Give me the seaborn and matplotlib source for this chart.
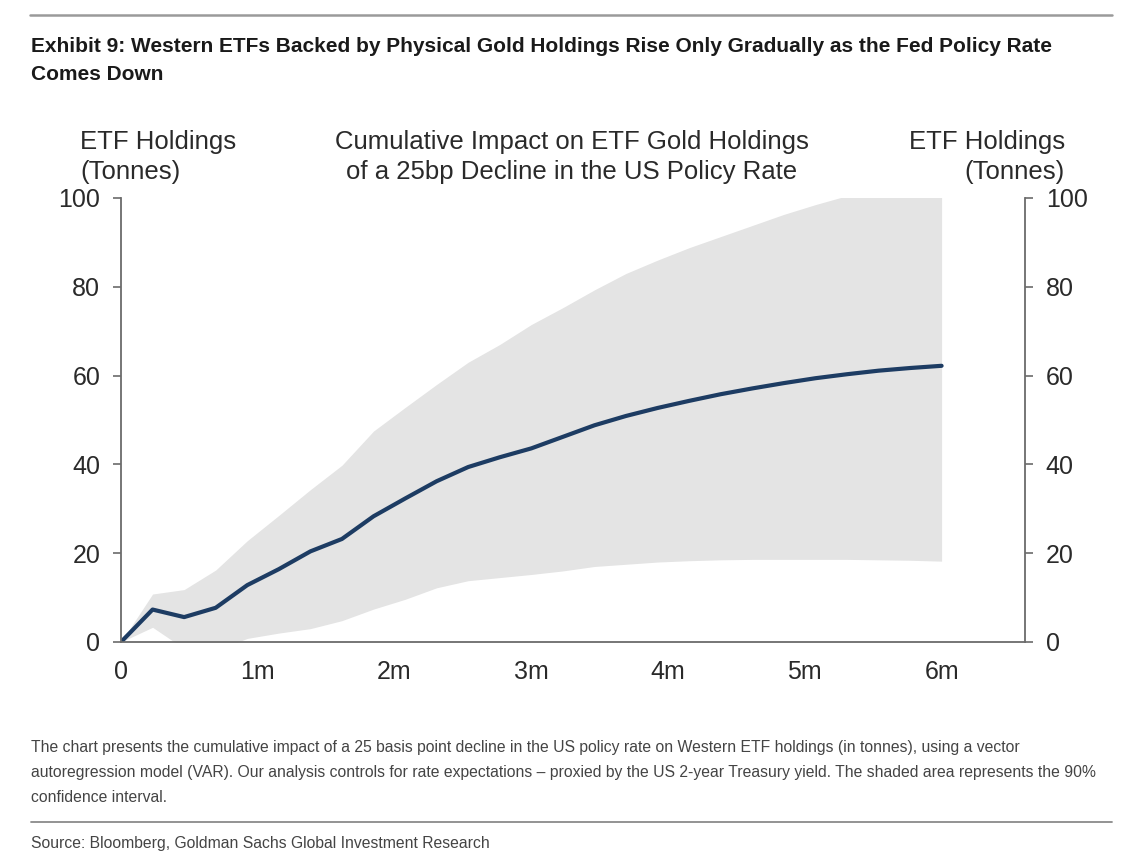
import numpy as np
import pandas as pd
import seaborn as sns
import matplotlib.pyplot as plt
from matplotlib.lines import Line2D

# horizon in weeks after the rate cut, 0 .. 26 (= 6 months)
weeks = [0, 1, 2, 3, 4, 5, 6, 7, 8, 9, 10, 11, 12, 13,
         14, 15, 16, 17, 18, 19, 20, 21, 22, 23, 24, 25, 26]
holdings = [0.0, 7.3, 5.6, 7.7, 12.8, 16.4, 20.4, 23.2, 28.3, 32.3, 36.2, 39.4, 41.6, 43.6,
            46.2, 48.8, 50.9, 52.7, 54.3, 55.8, 57.1, 58.3, 59.4, 60.3, 61.1, 61.7, 62.2]
upper = [0.0, 10.8, 11.8, 16.2, 22.8, 28.5, 34.3, 39.8, 47.5, 52.8, 58.0, 63.0, 67.0, 71.5,
         75.3, 79.3, 83.0, 86.0, 88.8, 91.3, 93.8, 96.3, 98.5, 100.5, 102.0, 103.5, 105.0]
lower = [0.0, 3.3, -1.5, -2.0, 0.8, 2.0, 3.0, 4.8, 7.4, 9.6, 12.2, 13.8, 14.5, 15.2,
         16.0, 17.0, 17.5, 18.0, 18.3, 18.5, 18.6, 18.6, 18.6, 18.6, 18.5, 18.4, 18.2]

month_ticks = [0, 1, 2, 3, 4, 5, 6]
month_labels = ["0", "1m", "2m", "3m", "4m", "5m", "6m"]
y_ticks = [0, 20, 40, 60, 80, 100]

title = ("Exhibit 9: Western ETFs Backed by Physical Gold Holdings Rise Only Gradually as the Fed Policy Rate\n"
         "Comes Down")
chart_title = "Cumulative Impact on ETF Gold Holdings\nof a 25bp Decline in the US Policy Rate"
axis_label = "ETF Holdings\n(Tonnes)"
note = ("The chart presents the cumulative impact of a 25 basis point decline in the US policy rate on Western ETF holdings (in tonnes), using a vector\n"
        "autoregression model (VAR). Our analysis controls for rate expectations \u2013 proxied by the US 2-year Treasury yield. The shaded area represents the 90%\n"
        "confidence interval.")
source = "Source: Bloomberg, Goldman Sachs Global Investment Research"

df = pd.DataFrame({"weeks": weeks, "holdings": holdings, "upper": upper, "lower": lower})
df["months"] = df["weeks"] * 12 / 52

sns.set_theme(style="white")
plt.rcParams["font.family"] = ["Liberation Sans", "DejaVu Sans"]

line_col = "#1d3c63"
band_col = "#e4e4e4"
spine_col = "#6b6b6b"
text_col = "#2a2a2a"

fig = plt.figure(figsize=(11.3, 8.66), dpi=100)
ax = fig.add_axes([0.1071, 0.2587, 0.8, 0.5127])

ax.fill_between(df["months"], df["lower"], df["upper"], color=band_col, linewidth=0)
sns.lineplot(data=df, x="months", y="holdings", ax=ax, color=line_col, linewidth=3.0)

ax.set_xlim(0, 6.61)
ax.set_ylim(0, 100)
ax.set_xticks(month_ticks)
ax.set_xticklabels(month_labels)
ax.set_yticks(y_ticks)
ax.set_xlabel("")
ax.set_ylabel("")

ax2 = ax.twinx()
ax2.set_ylim(0, 100)
ax2.set_yticks(y_ticks)

for a in (ax, ax2):
    a.spines["top"].set_visible(False)
    for s in ("left", "right", "bottom"):
        a.spines[s].set_color(spine_col)
        a.spines[s].set_linewidth(1.3)
    a.tick_params(direction="out", length=6, width=1.2, color=spine_col,
                  labelsize=18, labelcolor=text_col, pad=9)
ax.spines["right"].set_visible(False)
ax2.spines["left"].set_visible(False)
ax2.spines["bottom"].set_visible(False)
ax.tick_params(axis="x", pad=7)

# header texts above the plot
hdr_y = 0.819
fig.text(0.0708, hdr_y, axis_label, ha="left", va="center", fontsize=18.5, color=text_col, linespacing=1.3)
fig.text(0.506, hdr_y, chart_title, ha="center", va="center", fontsize=18.5, color=text_col, linespacing=1.3)
fig.text(0.9425, hdr_y, axis_label, ha="right", va="center", fontsize=18.5, color=text_col,
         linespacing=1.3, multialignment="right")

fig.text(0.0274, 0.930, title, ha="left", va="center", fontsize=15, fontweight="bold",
         color="#1a1a1a", linespacing=1.55)

fig.text(0.0274, 0.108, note, ha="left", va="center", fontsize=11.3, color="#444444", linespacing=1.85)
fig.text(0.0274, 0.026, source, ha="left", va="center", fontsize=11.3, color="#444444")

fig.add_artist(Line2D([0.0265, 0.984], [0.983, 0.983], transform=fig.transFigure, color="#9a9a9a", linewidth=1.8))
fig.add_artist(Line2D([0.0274, 0.984], [0.051, 0.051], transform=fig.transFigure, color="#8a8a8a", linewidth=1.3))

fig.savefig("out.png", dpi=100, facecolor="white")
